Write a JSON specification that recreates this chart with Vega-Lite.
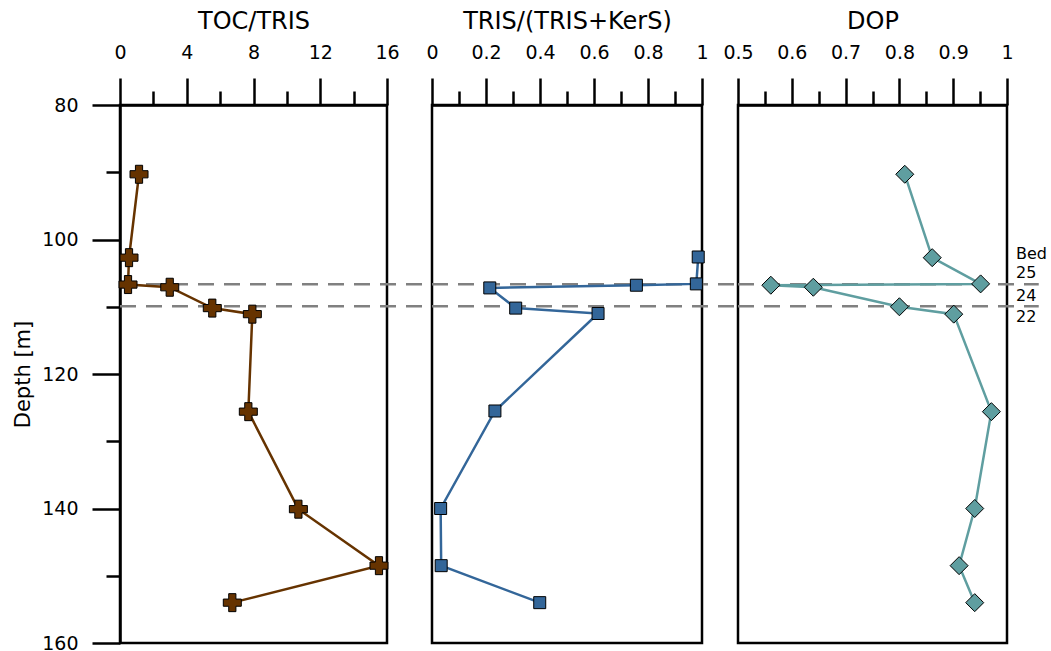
{
  "$schema": "https://vega.github.io/schema/vega-lite/v6.json",
  "background": "white",
  "padding": {"left": 11, "top": 7, "right": 0, "bottom": 0},
  "bounds": "flush",
  "spacing": 45,
  "config": {
    "view": {"stroke": "black", "strokeWidth": 2.5},
    "font": "DejaVu Sans",
    "axis": {
      "grid": false,
      "domainColor": "black",
      "domainWidth": 2.5,
      "tickColor": "black",
      "tickWidth": 2.5,
      "labelColor": "black",
      "titleColor": "black",
      "labelFont": "DejaVu Sans",
      "titleFont": "DejaVu Sans",
      "labelFontSize": 19,
      "titleFontSize": 24,
      "titleFontWeight": "normal",
      "labelFlush": false,
      "labelOverlap": false,
      "labelBound": false,
      "format": "~r"
    }
  },
  "datasets": {
    "toc": [
      {"depth": 90.3, "value": 1.14},
      {"depth": 102.7, "value": 0.54},
      {"depth": 106.7, "value": 0.48},
      {"depth": 107.1, "value": 2.98},
      {"depth": 110.2, "value": 5.53},
      {"depth": 111.1, "value": 7.93},
      {"depth": 125.6, "value": 7.69},
      {"depth": 140.1, "value": 10.69},
      {"depth": 148.5, "value": 15.52},
      {"depth": 154.0, "value": 6.73}
    ],
    "tris": [
      {"depth": 102.6, "value": 0.986},
      {"depth": 106.6, "value": 0.979},
      {"depth": 106.8, "value": 0.757},
      {"depth": 107.2, "value": 0.214},
      {"depth": 110.2, "value": 0.31},
      {"depth": 111.0, "value": 0.615},
      {"depth": 125.5, "value": 0.233},
      {"depth": 140.0, "value": 0.032},
      {"depth": 148.5, "value": 0.034},
      {"depth": 154.0, "value": 0.399}
    ],
    "dop": [
      {"depth": 90.3, "value": 0.81},
      {"depth": 102.7, "value": 0.861},
      {"depth": 106.6, "value": 0.951},
      {"depth": 106.8, "value": 0.561},
      {"depth": 107.1, "value": 0.64},
      {"depth": 110.0, "value": 0.8},
      {"depth": 111.1, "value": 0.901},
      {"depth": 125.6, "value": 0.971},
      {"depth": 140.0, "value": 0.94},
      {"depth": 148.5, "value": 0.911},
      {"depth": 154.0, "value": 0.94}
    ],
    "beds": [
      {"depth": 106.65},
      {"depth": 109.93}
    ],
    "bedlabels": [
      {"label": "Bed", "depth": 102.16},
      {"label": "25", "depth": 104.98},
      {"label": "24", "depth": 108.4},
      {"label": "22", "depth": 111.52}
    ]
  },
  "hconcat": [
    {
      "width": 267,
      "height": 538,
      "resolve": {"axis": {"x": "independent", "y": "independent"}},
      "layer": [
        {
          "data": {"name": "beds"},
          "mark": {"type": "rule", "color": "#808080", "strokeWidth": 2.5, "strokeDash": [16, 10]},
          "encoding": {
            "y": {"field": "depth", "type": "quantitative", "scale": {"domain": [80, 160], "reverse": true, "nice": false, "zero": false}, "axis": null},
            "x": {"datum": 0, "type": "quantitative", "scale": {"domain": [0, 16], "nice": false}, "axis": null},
            "x2": {"datum": 18.7}
          }
        },
        {
          "data": {"name": "toc"},
          "mark": {"type": "line", "color": "#663300", "strokeWidth": 2.5},
          "encoding": {
            "x": {"field": "value", "type": "quantitative", "scale": {"domain": [0, 16], "nice": false},
                  "axis": {"orient": "top", "title": "TOC/TRIS", "values": [0, 4, 8, 12, 16], "tickSize": 27, "labelPadding": 16, "titlePadding": 10}},
            "y": {"field": "depth", "type": "quantitative", "scale": {"domain": [80, 160], "reverse": true, "nice": false, "zero": false},
                  "axis": {"orient": "left", "title": "Depth [m]", "titleFontSize": 21, "values": [80, 100, 120, 140, 160], "tickSize": 28, "labelPadding": 14, "titlePadding": 8}},
            "order": {"field": "depth", "type": "quantitative"}
          }
        },
        {
          "data": {"name": "toc"},
          "mark": {"type": "point", "shape": "cross", "filled": true, "fill": "#663300", "stroke": "black", "strokeWidth": 1, "size": 324, "opacity": 1},
          "encoding": {
            "x": {"field": "value", "type": "quantitative", "scale": {"domain": [0, 16], "nice": false},
                  "axis": {"orient": "top", "title": null, "values": [2, 6, 10, 14], "tickSize": 14, "labels": false, "domain": false}},
            "y": {"field": "depth", "type": "quantitative", "scale": {"domain": [80, 160], "reverse": true, "nice": false, "zero": false},
                  "axis": {"orient": "left", "title": null, "values": [90, 110, 130, 150], "tickSize": 14, "labels": false, "domain": false}}
          }
        }
      ]
    },
    {
      "spacing": 36,
      "bounds": "flush",
      "hconcat": [
        {
          "width": 270,
          "height": 538,
          "resolve": {"axis": {"x": "independent"}},
          "layer": [
            {
              "data": {"name": "beds"},
              "mark": {"type": "rule", "color": "#808080", "strokeWidth": 2.5, "strokeDash": [16, 10]},
              "encoding": {
                "y": {"field": "depth", "type": "quantitative", "scale": {"domain": [80, 160], "reverse": true, "nice": false, "zero": false}, "axis": null},
                "x": {"datum": 0, "type": "quantitative", "scale": {"domain": [0, 1], "nice": false}, "axis": null},
                "x2": {"datum": 1.134}
              }
            },
            {
              "data": {"name": "tris"},
              "mark": {"type": "line", "color": "#336699", "strokeWidth": 2.5},
              "encoding": {
                "x": {"field": "value", "type": "quantitative", "scale": {"domain": [0, 1], "nice": false},
                      "axis": {"orient": "top", "title": "TRIS/(TRIS+KerS)", "values": [0, 0.2, 0.4, 0.6, 0.8, 1], "tickSize": 27, "labelPadding": 16, "titlePadding": 10}},
                "y": {"field": "depth", "type": "quantitative", "scale": {"domain": [80, 160], "reverse": true, "nice": false, "zero": false}, "axis": null},
                "order": {"field": "depth", "type": "quantitative"}
              }
            },
            {
              "data": {"name": "tris"},
              "mark": {"type": "point", "shape": "square", "filled": true, "fill": "#336699", "stroke": "black", "strokeWidth": 1, "size": 144, "opacity": 1},
              "encoding": {
                "x": {"field": "value", "type": "quantitative", "scale": {"domain": [0, 1], "nice": false},
                      "axis": {"orient": "top", "title": null, "values": [0.1, 0.3, 0.5, 0.7, 0.9], "tickSize": 14, "labels": false, "domain": false}},
                "y": {"field": "depth", "type": "quantitative", "scale": {"domain": [80, 160], "reverse": true, "nice": false, "zero": false}, "axis": null}
              }
            }
          ]
        },
        {
          "width": 269,
          "height": 538,
          "resolve": {"axis": {"x": "independent"}},
          "layer": [
            {
              "data": {"name": "beds"},
              "mark": {"type": "rule", "color": "#808080", "strokeWidth": 2.5, "strokeDash": [16, 10]},
              "encoding": {
                "y": {"field": "depth", "type": "quantitative", "scale": {"domain": [80, 160], "reverse": true, "nice": false, "zero": false}, "axis": null},
                "x": {"datum": 0.5, "type": "quantitative", "scale": {"domain": [0.5, 1], "nice": false}, "axis": null},
                "x2": {"datum": 1.059}
              }
            },
            {
              "data": {"name": "dop"},
              "mark": {"type": "line", "color": "#5f9ea0", "strokeWidth": 2.5},
              "encoding": {
                "x": {"field": "value", "type": "quantitative", "scale": {"domain": [0.5, 1], "nice": false, "zero": false},
                      "axis": {"orient": "top", "title": "DOP", "values": [0.5, 0.6, 0.7, 0.8, 0.9, 1], "tickSize": 27, "labelPadding": 16, "titlePadding": 10}},
                "y": {"field": "depth", "type": "quantitative", "scale": {"domain": [80, 160], "reverse": true, "nice": false, "zero": false}, "axis": null},
                "order": {"field": "depth", "type": "quantitative"}
              }
            },
            {
              "data": {"name": "dop"},
              "mark": {"type": "point", "shape": "diamond", "filled": true, "fill": "#5f9ea0", "stroke": "black", "strokeWidth": 1, "size": 324, "opacity": 1},
              "encoding": {
                "x": {"field": "value", "type": "quantitative", "scale": {"domain": [0.5, 1], "nice": false, "zero": false},
                      "axis": {"orient": "top", "title": null, "values": [0.55, 0.65, 0.75, 0.85, 0.95], "tickSize": 14, "labels": false, "domain": false}},
                "y": {"field": "depth", "type": "quantitative", "scale": {"domain": [80, 160], "reverse": true, "nice": false, "zero": false}, "axis": null}
              }
            },
            {
              "data": {"name": "bedlabels"},
              "mark": {"type": "text", "align": "left", "baseline": "middle", "fontSize": 16, "font": "DejaVu Sans", "color": "black"},
              "encoding": {
                "x": {"datum": 1.0167, "type": "quantitative", "scale": {"domain": [0.5, 1], "nice": false, "zero": false}, "axis": null},
                "y": {"field": "depth", "type": "quantitative", "scale": {"domain": [80, 160], "reverse": true, "nice": false, "zero": false}, "axis": null},
                "text": {"field": "label"}
              }
            }
          ]
        }
      ]
    }
  ]
}
